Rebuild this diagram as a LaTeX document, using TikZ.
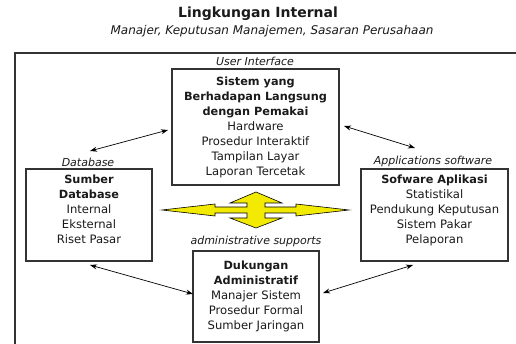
\documentclass[tikz,border=0pt]{standalone}
\usepackage{fontspec}
\setmainfont{DejaVu Sans}
\usetikzlibrary{arrows.meta}
\definecolor{txt}{HTML}{1A1A1A}
\definecolor{frame}{HTML}{333333}
\definecolor{yel}{HTML}{F2EA00}
\newcommand{\bl}[1]{\textbf{\fontsize{11.3}{15.5}\selectfont #1}}
\tikzset{
  box/.style={draw=frame, line width=1.1pt, align=center, inner sep=2pt, text=txt, font=\fontsize{11.6}{15}\selectfont},
  lbl/.style={font=\fontsize{11}{13}\selectfont\itshape, text=txt, inner sep=0pt},
  link/.style={<->, >={Stealth[length=7pt,width=5pt]}, line width=0.7pt}
}
\begin{document}
\begin{tikzpicture}[x=1pt,y=-1pt]
\useasboundingbox (0,0) rectangle (516,344);
\clip (0,0) rectangle (516,344);
\fill[white] (0,0) rectangle (516,344);
% title
\node[font=\fontsize{14}{16}\selectfont\bfseries, text=txt, inner sep=0pt] (title) at (258,14) {Lingkungan Internal};
\node[lbl, font=\fontsize{12}{14}\selectfont\itshape] (sub) at (272,31) {Manajer, Keputusan Manajemen, Sasaran Perusahaan};
% outer frame
\coordinate (fbl) at (15,360);
\coordinate (ftl) at (15,53);
\coordinate (ftr) at (530,53);
\draw[frame, line width=1.1pt] (fbl) -- (ftl) -- (ftr);
% boxes
\node[box, minimum width=167pt, minimum height=116pt] (ui) at (255.5,127) {\bl{Sistem yang}\\\bl{Berhadapan Langsung}\\\bl{dengan Pemakai}\\Hardware\\Prosedur Interaktif\\Tampilan Layar\\Laporan Tercetak};
\node[box, minimum width=126pt, minimum height=92pt] (db) at (89,215) {\bl{Sumber}\\\bl{Database}\\Internal\\Eksternal\\Riset Pasar\\[-4pt]};
\node[box, minimum width=147pt, minimum height=92pt] (app) at (434.5,215) {\bl{Sofware Aplikasi}\\Statistikal\\Pendukung Keputusan\\Sistem Pakar\\Pelaporan\\[-4pt]};
\node[box, minimum width=126pt, minimum height=91pt] (adm) at (256,296.5) {\bl{Dukungan}\\\bl{Administratif}\\Manajer Sistem\\Prosedur Formal\\Sumber Jaringan};
% labels
\node[lbl] (uil) at (255,61) {User Interface};
\node[lbl] (dbl) at (88,162) {Database};
\node[lbl] (appl) at (433,161) {Applications software};
\node[lbl] (adml) at (256,241) {administrative supports};
% connectors
\coordinate (a1) at (90,151);
\coordinate (a2) at (168,130);
\coordinate (b1) at (344,126);
\coordinate (b2) at (415,148);
\coordinate (c1) at (90,265);
\coordinate (c2) at (193,294);
\coordinate (d1) at (323,293);
\coordinate (d2) at (413,265);
\draw[link] (a1) -- (a2);
\draw[link] (b1) -- (b2);
\draw[link] (c1) -- (c2);
\draw[link] (d1) -- (d2);
% central yellow arrows
\draw[fill=yel, draw=black, line width=0.6pt, line join=miter]
 (162,210) -- (215,204) -- (215,207) -- (247,207) -- (247,203) -- (230,203) -- (256,192) -- (282,203) -- (265,203) -- (265,207) -- (296,207) -- (296,204) -- (349,210) -- (296,216) -- (296,213) -- (265,213) -- (265,218) -- (282,218) -- (256,228) -- (230,218) -- (247,218) -- (247,213) -- (215,213) -- (215,216) -- cycle;
\end{tikzpicture}
\end{document}
